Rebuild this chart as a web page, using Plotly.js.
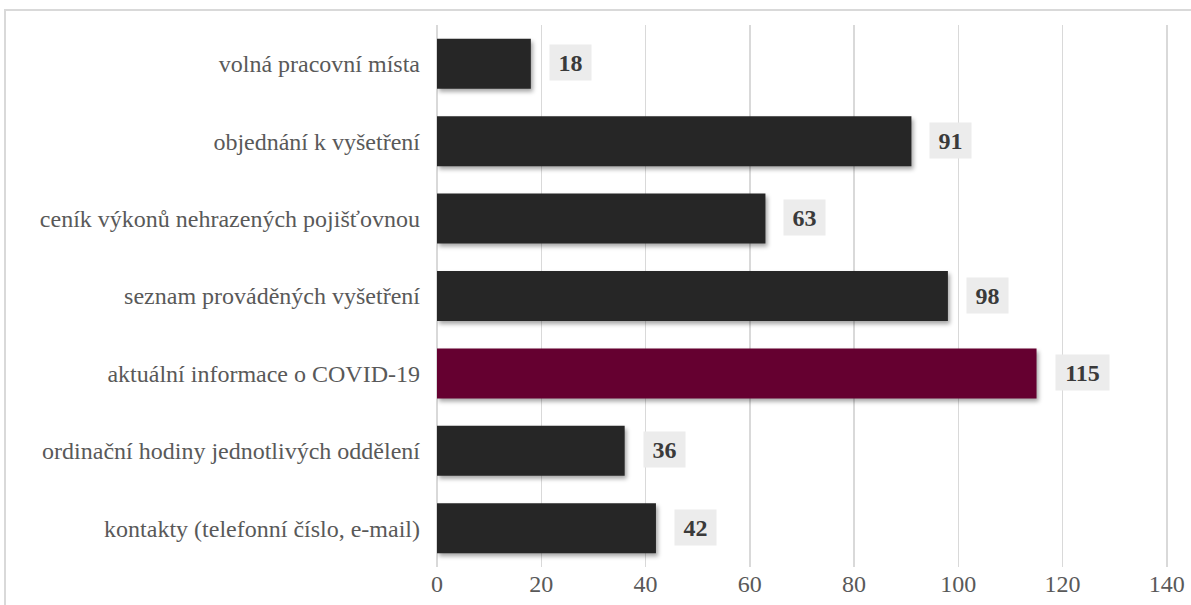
<!DOCTYPE html>
<html>
<head>
<meta charset="utf-8">
<script src="https://cdn.plot.ly/plotly-3.0.1.min.js"></script>
<style>
  html, body { margin: 0; padding: 0; background: #fff; }
  #wrap { position: relative; width: 1191px; height: 605px; overflow: hidden; }
  #frame { position: absolute; left: 4px; top: 9px; width: 1200px; height: 700px;
           border: 2px solid #d9d9d9; pointer-events: none; z-index: 5; }
  #chart { position: absolute; left: 0; top: 0; width: 1191px; height: 605px; }
  #chart .barlayer path { filter: drop-shadow(2px 3px 2px rgba(0,0,0,0.35)); }
</style>
</head>
<body>
<div id="wrap">
  <div id="chart"></div>
  <div id="frame"></div>
</div>
<script>
// Data (bottom to top, as drawn)
const categories = [
  "kontakty (telefonní číslo, e-mail)",
  "ordinační hodiny jednotlivých oddělení",
  "aktuální informace o COVID-19",
  "seznam prováděných vyšetření",
  "ceník výkonů nehrazených pojišťovnou",
  "objednání k vyšetření",
  "volná pracovní místa"
];
const values = [42, 36, 115, 98, 63, 91, 18];
const highlight = "aktuální informace o COVID-19";
const xTicks = [0, 20, 40, 60, 80, 100, 120, 140];

const barColors = categories.map(c => c === highlight ? "#650030" : "#262626");

const trace = {
  type: "bar",
  orientation: "h",
  y: categories,
  x: values,
  marker: { color: barColors, line: { width: 0 } },
  hoverinfo: "none"
};

const annotations = categories.map((c, i) => {
  const txt = String(values[i]);
  return {
    x: values[i],
    y: c,
    xref: "x",
    yref: "y",
    text: "<b>" + txt + "</b>",
    showarrow: false,
    xanchor: "left",
    yanchor: "middle",
    xshift: 18,
    yshift: 1,
    bgcolor: "#ececec",
    borderpad: 2,
    width: 12 * txt.length + 13,
    height: 31,
    font: { family: "Liberation Serif, Times New Roman, serif", size: 24, color: "#3a3a3a" }
  };
});

const layout = {
  width: 1191,
  height: 605,
  margin: { l: 437, r: 21, t: 25, b: 38, pad: 0 },
  paper_bgcolor: "rgba(0,0,0,0)",
  plot_bgcolor: "rgba(0,0,0,0)",
  showlegend: false,
  bargap: 0.354,
  font: { family: "Liberation Serif, Times New Roman, serif", size: 24, color: "#595959" },
  xaxis: {
    range: [0, 140.6],
    tickvals: xTicks,
    ticktext: xTicks.map(String),
    showgrid: true,
    gridcolor: "#d9d9d9",
    gridwidth: 1.5,
    zeroline: true,
    zerolinecolor: "#d9d9d9",
    zerolinewidth: 1.5,
    showline: false,
    ticks: "",
    tickfont: { family: "Liberation Serif, Times New Roman, serif", size: 24, color: "#595959" },
    fixedrange: true
  },
  yaxis: {
    type: "category",
    categoryorder: "array",
    categoryarray: categories,
    showgrid: false,
    zeroline: false,
    showline: false,
    ticks: "",
    ticklabelstandoff: 16,
    tickfont: { family: "Liberation Serif, Times New Roman, serif", size: 24, color: "#595959" },
    fixedrange: true
  },
  annotations: annotations
};

Plotly.newPlot("chart", [trace], layout, { displayModeBar: false, staticPlot: true });
</script>
</body>
</html>
